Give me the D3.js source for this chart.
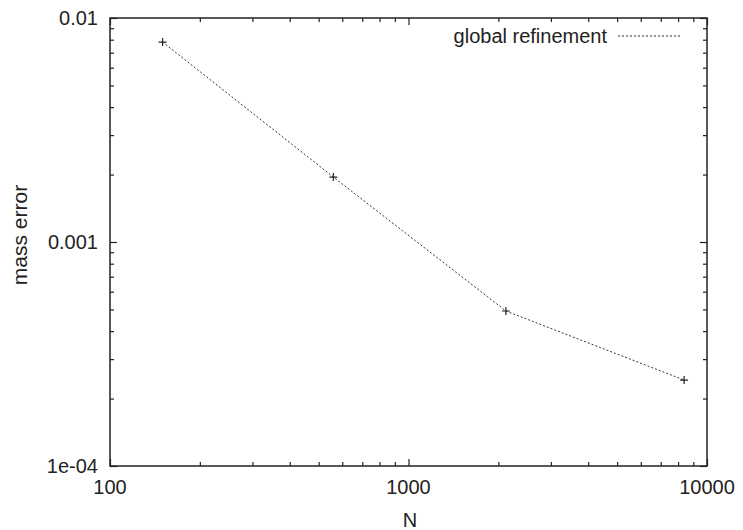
<!DOCTYPE html>
<html>
<head>
<meta charset="utf-8">
<script src="https://cdn.jsdelivr.net/npm/d3@7"></script>
<style>
  html, body { margin: 0; padding: 0; background: #fff; }
  svg { display: block; }
  text { font-family: "Liberation Sans", Arial, Helvetica, sans-serif; fill: #222; }
</style>
</head>
<body>
<svg id="chart" width="743" height="530"></svg>
<script>
// Mass error versus number of unknowns under global mesh refinement
const N = [150, 560, 2120, 8380];
const massError = [0.00781, 0.00195, 0.000492, 0.000242];
const seriesName = "global refinement";
const xTickValues = [100, 1000, 10000];
const xTickLabels = ["100", "1000", "10000"];
const yTickValues = [0.0001, 0.001, 0.01];
const yTickLabels = ["1e-04", "0.001", "0.01"];
const xDomain = [100, 10000];
const yDomain = [0.0001, 0.01];

const W = 743, H = 530;
const margin = { left: 110, right: 36, top: 18, bottom: 64 };
const iw = W - margin.left - margin.right;
const ih = H - margin.top - margin.bottom;
const fs = 20;

const svg = d3.select("#chart");
const g = svg.append("g").attr("transform", `translate(${margin.left},${margin.top})`);

const x = d3.scaleLog().domain(xDomain).range([0, iw]);
const y = d3.scaleLog().domain(yDomain).range([ih, 0]);

// minor tick positions: 2..9 within each decade
function minorTicks(domain) {
  const out = [];
  const lo = Math.round(Math.log10(domain[0])), hi = Math.round(Math.log10(domain[1]));
  for (let e = lo; e < hi; e++) for (let k = 2; k <= 9; k++) out.push(k * Math.pow(10, e));
  return out;
}
const xMinor = minorTicks(xDomain);
const yMinor = minorTicks(yDomain);

const major = 7, minor = 4;
const axisStyle = sel => {
  sel.select(".domain").remove();
  sel.selectAll("line").attr("stroke", "#222").attr("stroke-width", 1.2);
};

// inward ticks on all four sides
function xAxisAt(yPos, dir) {
  g.append("g").attr("transform", `translate(0,${yPos})`)
    .call(d3.axisBottom(x).tickValues(xTickValues).tickSize(dir * major).tickFormat(""))
    .call(axisStyle);
  g.append("g").attr("transform", `translate(0,${yPos})`)
    .call(d3.axisBottom(x).tickValues(xMinor).tickSize(dir * minor).tickFormat(""))
    .call(axisStyle);
}
function yAxisAt(xPos, dir) {
  g.append("g").attr("transform", `translate(${xPos},0)`)
    .call(d3.axisLeft(y).tickValues(yTickValues).tickSize(dir * major).tickFormat(""))
    .call(axisStyle);
  g.append("g").attr("transform", `translate(${xPos},0)`)
    .call(d3.axisLeft(y).tickValues(yMinor).tickSize(dir * minor).tickFormat(""))
    .call(axisStyle);
}
xAxisAt(ih, -1);
xAxisAt(0, 1);
yAxisAt(0, -1);
yAxisAt(iw, 1);

// frame
g.append("rect").attr("x", 0).attr("y", 0).attr("width", iw).attr("height", ih)
  .attr("fill", "none").attr("stroke", "#222").attr("stroke-width", 1.5);

// tick labels
g.append("g").selectAll("text").data(xTickValues).join("text")
  .attr("x", d => x(d)).attr("y", ih + 28)
  .attr("text-anchor", "middle").attr("font-size", fs)
  .text((d, i) => xTickLabels[i]);
g.append("g").selectAll("text").data(yTickValues).join("text")
  .attr("x", -12).attr("y", d => y(d)).attr("dy", "0.35em")
  .attr("text-anchor", "end").attr("font-size", fs)
  .text((d, i) => yTickLabels[i]);

// axis titles
svg.append("text").attr("x", 410).attr("y", 527)
  .attr("text-anchor", "middle").attr("font-size", fs).text("N");
svg.append("text").attr("transform", `translate(27,235) rotate(-90)`)
  .attr("text-anchor", "middle").attr("font-size", 21).text("mass error");

// data line
const pts = N.map((n, i) => [n, massError[i]]);
g.append("path").datum(pts)
  .attr("fill", "none").attr("stroke", "#333").attr("stroke-width", 1)
  .attr("stroke-dasharray", "2,2")
  .attr("d", d3.line().x(d => x(d[0])).y(d => y(d[1])));

// point markers (+)
const s = 4;
g.append("g").selectAll("path").data(pts).join("path")
  .attr("transform", d => `translate(${x(d[0])},${y(d[1])})`)
  .attr("d", `M${-s},0H${s}M0,${-s}V${s}`)
  .attr("stroke", "#222").attr("stroke-width", 1.2);

// legend
g.append("text").attr("x", 497).attr("y", 18).attr("dy", "0.35em")
  .attr("text-anchor", "end").attr("font-size", fs).text(seriesName);
g.append("line").attr("x1", 508).attr("x2", 572).attr("y1", 18).attr("y2", 18)
  .attr("stroke", "#333").attr("stroke-width", 1).attr("stroke-dasharray", "2,2");
</script>
</body>
</html>
